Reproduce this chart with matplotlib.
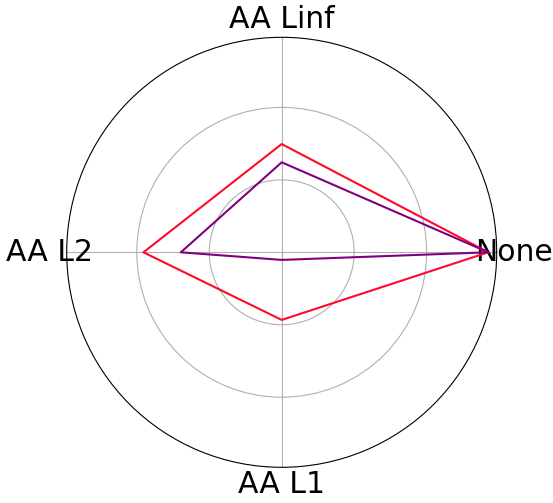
import numpy as np
import matplotlib
matplotlib.use("Agg")
import matplotlib.pyplot as plt

categories = ["None", "AA Linf", "AA L2", "AA L1"]
red_values = [0.95, 0.498, 0.636, 0.311]
purple_values = [0.95, 0.414, 0.464, 0.035]
r_ticks = [1/3, 2/3]
r_max = 0.989

angles = np.linspace(0, 2*np.pi, len(categories), endpoint=False)
ang_closed = np.concatenate([angles, angles[:1]])

fig = plt.figure(figsize=(5.53, 5.03), dpi=100)
ax = fig.add_axes([66.7/553, (503-467.3)/503, 430/553, 430/503], projection="polar")

ax.plot(ang_closed, red_values + red_values[:1], color="#ff0a2a", linewidth=1.5)
ax.plot(ang_closed, purple_values + purple_values[:1], color="purple", linewidth=1.5)

ax.set_xticks(angles)
ax.set_xticklabels(categories, fontsize=21.5)
ax.set_yticks(r_ticks)
ax.set_yticklabels([])
ax.set_ylim(0, r_max)
ax.tick_params(axis="x", pad=2)
ax.grid(True, color="#b0b0b0", linewidth=0.8)

fig.savefig("out.png", dpi=100)
